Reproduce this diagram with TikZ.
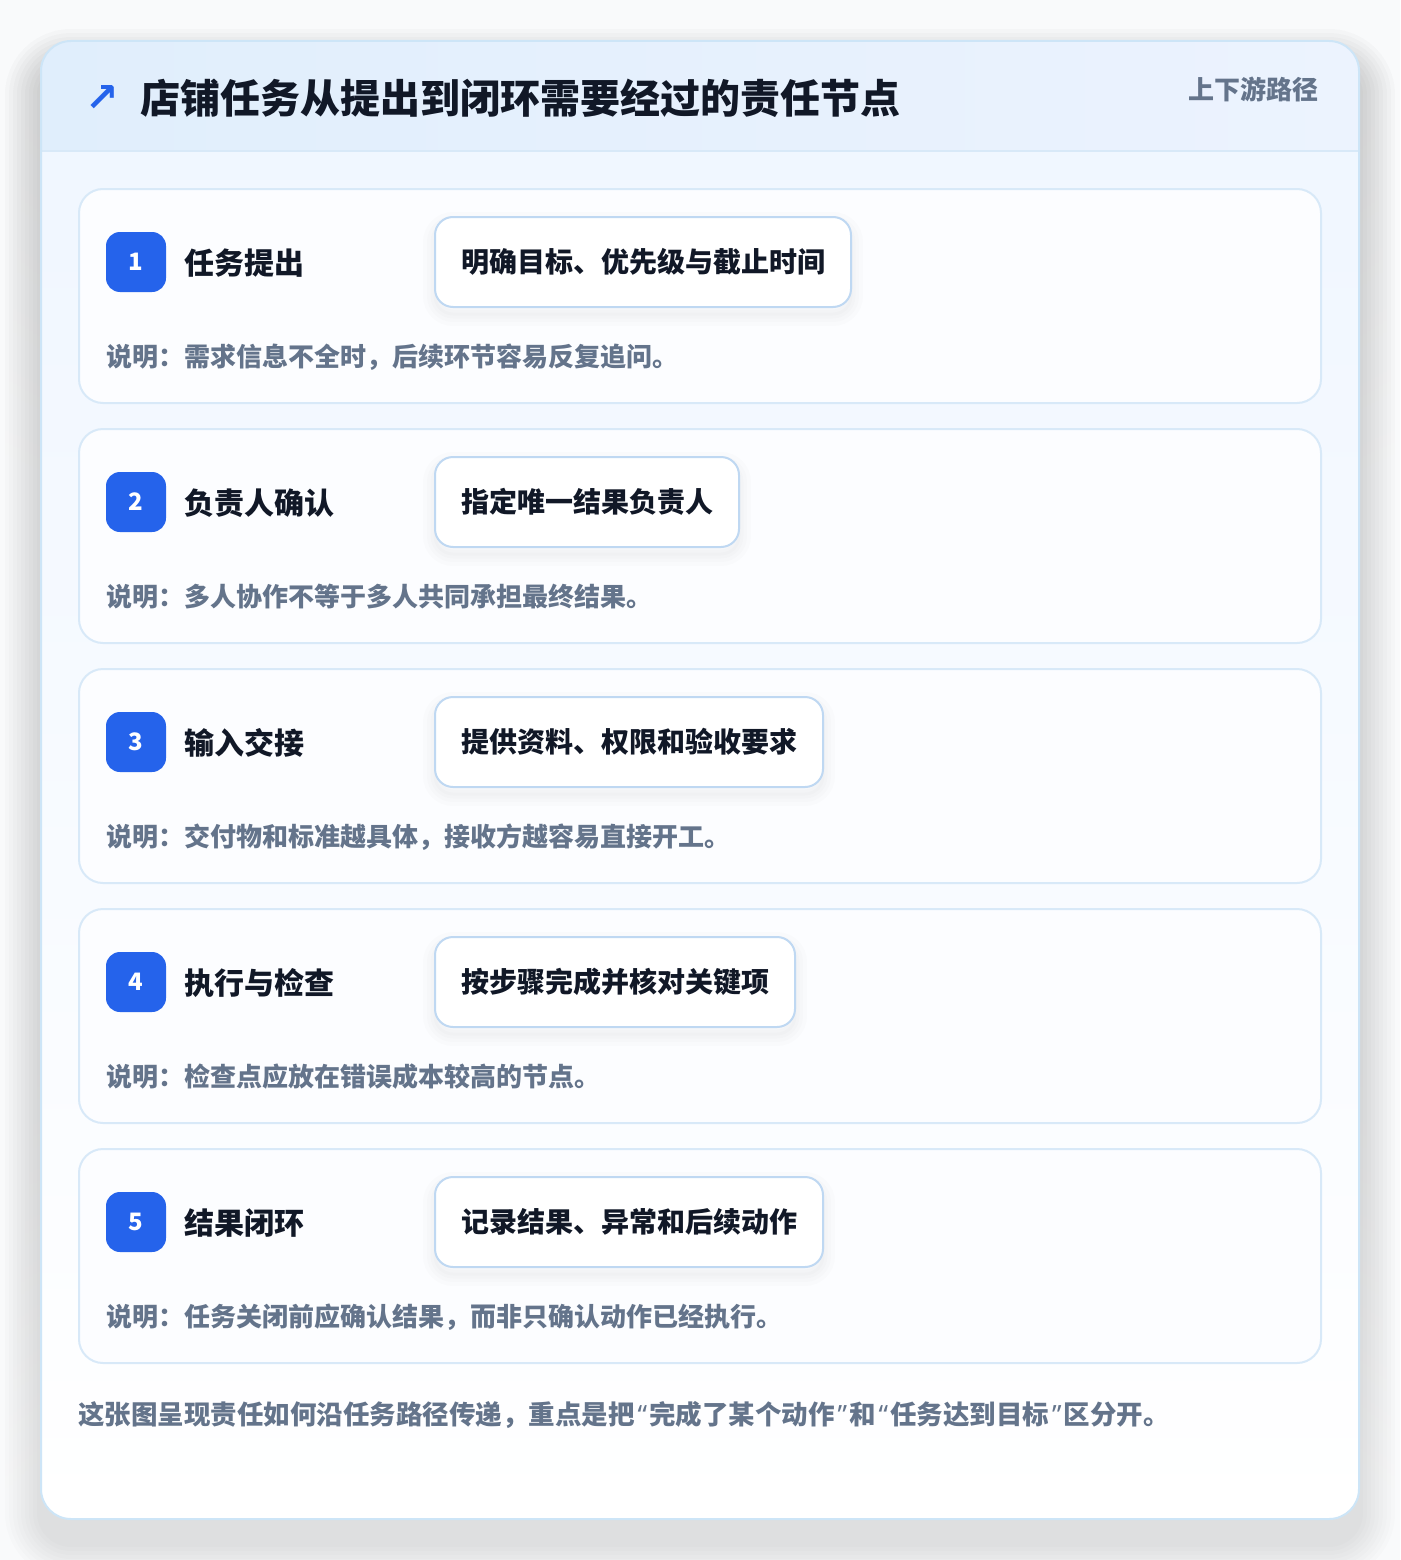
\documentclass[tikz,border=0pt]{standalone}
\usepackage{fontspec}
\setmainfont{Noto Sans CJK SC}
\newfontfamily\symfont{DejaVu Sans}
\newfontfamily\quotefont{Noto Sans}

\definecolor{pagebg}{HTML}{F9FAFB}
\definecolor{ink}{HTML}{111827}
\definecolor{muted}{HTML}{64748B}
\definecolor{accent}{HTML}{2563EB}
\definecolor{paneledge}{HTML}{CDE5F7}
\definecolor{headleft}{HTML}{E0EEFC}
\definecolor{headright}{HTML}{ECF3FE}
\definecolor{bodytop}{HTML}{EFF6FF}
\definecolor{cardedge}{HTML}{D8E9F8}
\definecolor{cardfill}{HTML}{FCFDFF}
\definecolor{boxedge}{HTML}{BFD8F2}
\definecolor{shade}{HTML}{0F172A}

\newcommand{\q}[1]{{\quotefont\kern3pt #1\kern2pt}}

\begin{document}
\begin{tikzpicture}[x=1pt, y=-1pt, outer sep=0pt,
    stepcard/.style={draw=cardedge, line width=2pt, fill=cardfill, rounded corners=24pt,
      minimum width=1242pt, minimum height=214pt, anchor=north west, inner sep=0pt},
    badge/.style={fill=accent, rounded corners=14pt, minimum size=60pt, inner sep=0pt,
      text=white, font=\bfseries\fontsize{24}{28}\selectfont},
    steptitle/.style={anchor=west, inner sep=0pt, text=ink, font=\bfseries\fontsize{30}{36}\selectfont},
    softdrop/.style={preaction={draw=shade, line width=#1, draw opacity=0.010, transform canvas={yshift=-7pt}}},
    action/.style={anchor=west, draw=boxedge, line width=2pt, fill=white, rounded corners=18pt,
      minimum height=90pt, inner xsep=26pt, inner ysep=0pt, text=ink,
      font=\bfseries\fontsize{28}{34}\selectfont,
      softdrop=24pt, softdrop=16pt, softdrop=9pt, softdrop=3pt},
    note/.style={anchor=west, inner sep=0pt, text=muted, font=\bfseries\fontsize{26}{30}\selectfont}]
  \useasboundingbox (0,0) rectangle (1400,1560);
  \fill[pagebg] (0,0) rectangle (1400,1560);

  % outer panel with its shadow
  \foreach \k [evaluate=\k as \r using 30+4*\k] in {1,...,9}
    \fill[shade, fill opacity=0.010, rounded corners=\r pt]
      (41-4*\k, 65-4*\k) rectangle (1359+4*\k, 1543+4*\k);
  \node[rounded corners=30pt, minimum width=1318pt, minimum height=1478pt, inner sep=0pt,
    top color=bodytop, bottom color=white] (panel) at (700,780) {};
  \begin{scope}
    \clip[rounded corners=30pt] (41,41) rectangle (1359,1519);
    \shade[left color=headleft, right color=headright] (41,41) rectangle (1359,151);
  \end{scope}
  \draw[cardedge, line width=2pt] (41,151) -- (1359,151);
  \draw[paneledge, line width=2pt, rounded corners=30pt] (41,41) rectangle (1359,1519);

  % header
  \node[text=accent, inner sep=0pt, font=\symfont\bfseries\fontsize{40}{44}\selectfont] (icon) at (102,99) {↗};
  \node[anchor=west, inner sep=0pt, text=ink, font=\bfseries\fontsize{40}{48}\selectfont] (title) at (140,98)
    {店铺任务从提出到闭环需要经过的责任节点};
  \node[anchor=east, inner sep=0pt, text=muted, font=\bfseries\fontsize{26}{32}\selectfont] (tag) at (1318,89)
    {上下游路径};

  % step 1
  \node[stepcard] (c1) at (79,189) {};
  \node[badge] (b1) at (136,262) {1};
  \node[steptitle] (t1) at (184,263) {任务提出};
  \node[action] (a1) at (435,262) {明确目标、优先级与截止时间};
  \node[note] (n1) at (106,357) {说明：需求信息不全时，后续环节容易反复追问。};

  % step 2
  \node[stepcard] (c2) at (79,429) {};
  \node[badge] (b2) at (136,502) {2};
  \node[steptitle] (t2) at (184,503) {负责人确认};
  \node[action] (a2) at (435,502) {指定唯一结果负责人};
  \node[note] (n2) at (106,597) {说明：多人协作不等于多人共同承担最终结果。};

  % step 3
  \node[stepcard] (c3) at (79,669) {};
  \node[badge] (b3) at (136,742) {3};
  \node[steptitle] (t3) at (184,743) {输入交接};
  \node[action] (a3) at (435,742) {提供资料、权限和验收要求};
  \node[note] (n3) at (106,837) {说明：交付物和标准越具体，接收方越容易直接开工。};

  % step 4
  \node[stepcard] (c4) at (79,909) {};
  \node[badge] (b4) at (136,982) {4};
  \node[steptitle] (t4) at (184,983) {执行与检查};
  \node[action] (a4) at (435,982) {按步骤完成并核对关键项};
  \node[note] (n4) at (106,1077) {说明：检查点应放在错误成本较高的节点。};

  % step 5
  \node[stepcard] (c5) at (79,1149) {};
  \node[badge] (b5) at (136,1222) {5};
  \node[steptitle] (t5) at (184,1223) {结果闭环};
  \node[action] (a5) at (435,1222) {记录结果、异常和后续动作};
  \node[note] (n5) at (106,1317) {说明：任务关闭前应确认结果，而非只确认动作已经执行。};

  % footer
  \node[anchor=west, inner sep=0pt, text=muted, font=\bfseries\fontsize{26.5}{32}\selectfont] (foot) at (78,1415)
    {这张图呈现责任如何沿任务路径传递，重点是把\q{“}完成了某个动作\q{”}和\q{“}任务达到目标\q{”}区分开。};
\end{tikzpicture}
\end{document}
